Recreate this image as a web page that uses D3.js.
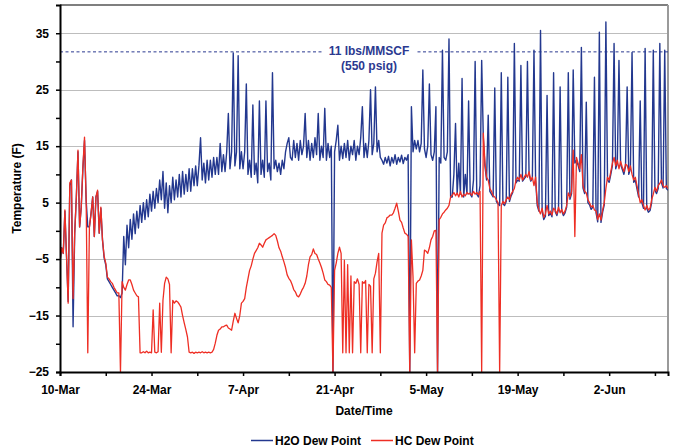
<!DOCTYPE html>
<html lang='en'>
<head>
<meta charset='UTF-8'>
<title>Dew Point</title>
<style>
  body { margin: 0; background: #fff; }
  svg text { font-family: Arial, 'Liberation Sans', sans-serif; font-weight: bold; fill: #000; }
</style>
</head>
<body>
<div id='chart'></div>
<script src='https://d3js.org/d3.v7.min.js'></script>
<script>
  // readings every 6 hours, starting 10-Mar
  var startDay = Date.UTC(2009, 2, 10)
  var stepDays = 0.25
  var lastDay = 93

  var seriesNames = ['H2O Dew Point', 'HC Dew Point']

  var h2oValues = [
    -5.5, -3, -4, 3.5, -4.6, -12.5, 8, 9,           // d0
    -17, -0.4, 6, 14, 0.7, 4.2, 11, 16,             // d2
    5.4, 0.7, 0.7, 3.1, 6, -1, 6, 7,                // d4
    -0.4, 4, -1.6, -4.8, -6, -8.5, -9, -9.5,        // d6
    -10, -10.5, -11, -11.5, -11.5, -11.8, -11, -1,  // d8
    -6, 1, -3, 2, -1.5, 3, -0.5, 3.5,               // d10
    0.5, 4.5, 1.5, 5, 2, 5.5, 2.5, 6.5,             // d12
    3.5, 7, 4, 7.5, 5, 9, 5.5, 10.5,                // d14
    4, 8.5, 3.2, 8, 5, 9.5, 5.5, 9,                 // d16
    6, 10, 6, 10.5, 6.5, 10, 7, 11,                 // d18
    7, 11, 8, 11.5, 8, 11.5, 16.5, 9,               // d20
    12, 8.5, 12.5, 9, 12.5, 9.5, 13, 10,            // d22
    13, 10, 15.5, 10.5, 13.5, 10.5, 14, 20.8,       // d24
    11, 14, 31.5, 11.5, 14, 31, 11, 14,             // d26
    11, 14, 26, 10, 12.5, 9.5, 22.3, 10,            // d28
    12, 8.5, 23, 10, 12.5, 9.5, 23, 10.5,           // d30
    12, 9, 28, 11, 12.5, 10.5, 12, 10,              // d32
    12.5, 11, 14, 15.5, 16.5, 13, 12.5, 16,         // d34
    13, 15.5, 12.5, 16, 13.5, 15, 20.8, 13,         // d36
    16, 12.5, 15.5, 13, 16.5, 13.5, 20.8, 12.5,     // d38
    15, 13, 21.7, 12.5, 15.5, 13, 15, -25,          // d40
    14, 16, 18.7, 12.5, 15, 12.8, 15.5, 13,         // d42
    16, 12.5, 15, 13.5, 16, 12.5, 15, 13.5,         // d44
    16.5, 22, 13, 15.5, 13, 16, 25, 13.5,           // d46
    15.5, 25.5, 14, 16, 13, 12.5, 11.8, 13,         // d48
    12, 13.2, 11.5, 13, 12, 13.5, 11.8, 13,         // d50
    12.2, 13.4, 11.9, 13, 12.5, 13.5, -25, 22,      // d52
    14, 16, 14.5, 16, 14, 15.5, 28.5, 14.5,         // d54
    13, 15, 26, 13.5, 12.5, 14, 22, -25,            // d56
    13, 12, 32, 13, 12.5, 14, 34, 6,                // d58
    6, 10, 19, 6.5, 12, 6.5, 27, 6,                 // d60
    10, 6.5, 23, 6.5, 6, 9, 30, 6.5,                // d62
    6, 8, 30.2, 16.5, 11.5, 9, 20.5, 7,             // d64
    6.5, 6, 25.3, 5.2, 4.8, 4.5, 28, 4.8,           // d66
    4.5, 5.2, 27.2, 5.2, 6.2, 6.8, 33.2, 8.5,       // d68
    9, 8.8, 29.3, 8.8, 9.2, 9.6, 30, 10,            // d70
    8.8, 9.2, 32, 9, 4.5, 3.5, 35.5, 3.5,           // d72
    2, 2.6, 24, 2.7, 3.2, 2.5, 28, 3.4,             // d74
    2.7, 3.8, 25.5, 3.5, 2.7, 3.2, 4.2, 28,         // d76
    5.6, 6.6, 28.5, 12, 12.5, 11.6, 10.5, 32.5,     // d78
    7.6, 6.6, 22.8, 5, 4.6, 3.8, 4.2, 27.2,         // d80
    3.2, 1.6, 35.2, 1.5, 3.3, 4.6, 37, 9,           // d82
    8.6, 10, 11.6, 33.2, 11, 12, 30.2, 11.8,        // d84
    10.9, 10, 11.4, 25.5, 10, 11, 31.6, 8.6,        // d86
    9, 7.5, 6, 23, 5, 4, 32.3, 4,                   // d88
    3.3, 3.6, 5, 32, 7.2, 6.6, 7.5, 33.2,           // d90
    8.5, 7.6, 32, 7.5, 7.2                          // d92
  ]

  var hcValues = [
    -5.5, -3, -4, 3.7, -4.6, -12.8, 8.5, 9,              // d0
    -12, -0.4, 6, 14.3, 0.7, 4.2, 11.3, 16.6,            // d2
    5.4, -21.6, 0.7, 3.1, 6, -1, 6, 7.2,                 // d4
    -0.4, 4.2, -1.6, -4.5, -5.7, -8.2, -8.5, -9,         // d6
    -9.3, -10, -10.5, -11, -11, -25, -9, -10,            // d8
    -10.5, -9.5, -8.7, -8.7, -9.5, -10.5, -11, -11.5,    // d10
    -11.7, -21.6, -21.6, -21.4, -21.6, -21.3, -21.6, -21.5, // d12
    -21.6, -14, -21.5, -21.6, -21.4, -12.8, -21.5, -12.3,   // d14
    -9.3, -8.2, -8.5, -9.5, -21.6, -12.3, -12.8, -12.4,  // d16
    -12.6, -13, -13.5, -15, -16.3, -17.5, -18.8, -21.5,  // d18
    -21.6, -21.5, -21.7, -21.5, -21.6, -21.5, -21.6, -21.4, // d20
    -21.6, -21.5, -21.6, -21.5, -21.6, -21.5, -21, -19.9,   // d22
    -18.5, -17.6, -17.4, -17, -17, -16.8, -16.7, -17.2,  // d24
    -17.4, -17.6, -16, -14.6, -15.5, -16.3, -15, -12.8,  // d26
    -12.5, -12, -10, -8.5, -7, -6.2, -5, -4,             // d28
    -3.5, -3, -2.2, -2.5, -2.9, -2.2, -1.6, -1.4,        // d30
    -1.2, -1, -0.8, -0.5, -0.8, -1.8, -3, -3.6,          // d32
    -4.6, -5.5, -6.5, -7.8, -8.4, -8.8, -9.5, -10.4,     // d34
    -10.8, -11.5, -11.7, -11.2, -10.5, -10, -9.3, -8,    // d36
    -6, -4.6, -4.2, -3.2, -4, -4.2, -5, -5.7,            // d38
    -6.5, -7.5, -8.7, -9, -9.5, -9.6, -10, -25,          // d40
    -7, -5.7, -4, -2.9, -4, -21.6, -5.2, -21.6,          // d42
    -6, -21.6, -8, -21.6, -9, -9.3, -8.5, -9.5,          // d44
    -21.6, -9, -9.3, -8.8, -21.6, -9.5, -9.8, -21.6,     // d46
    -8.5, -7.5, -5.5, -4, -21.6, -0.4, 1, 1.4,           // d48
    2.3, 2.5, 2.8, 2.8, 3.2, 4, 4.9, 3.5,                // d50
    1.9, 1.5, 0.5, -0.4, -0.6, -1, -25, -1.6,            // d52
    -8.2, -21.6, -9.3, -8.9, -8.7, -8, -7, -3.4,         // d54
    -3.6, -4, -3, -1.6, -1, 0, 0.1, -25,                 // d56
    2, 2.4, 3, 3.3, 3.7, 4, 4.5, 6,                      // d58
    6.3, 6.8, 6.2, 6.7, 6, 7, 6, 6.5,                    // d60
    6.2, 6.8, 6.5, 6.7, 6.3, 7, 6.5, 6.8,                // d62
    6.4, 7, -25, 17.3, 12, 9.5, 9, 7.5,                  // d64
    7, 6.2, 6, 5.5, 5, -25, 4.5, 5.2,                    // d66
    4.8, 5.5, 6, 5.5, 6.5, 7, 7.5, 9,                    // d68
    9.5, 9, 10, 9, 9.5, 10, 9.5, 10.5,                   // d70
    9, 9.5, 8, 9.5, 5, 3.7, 3, 4,                        // d72
    2.4, 3, 4.5, 3, 3.5, 2.8, 4, 3.7,                    // d74
    3, 4.2, 3.2, 3.8, 3, 3.5, 4.5, 6.7,                  // d76
    6, 7, 14.3, -1, 13, 12, 11, 13.5,                    // d78
    8, 7, 6.7, 5.5, 5, 4.2, 4.5, 3.7,                    // d80
    3.5, 2, 3, 1.9, 3.7, 5, 7.5, 9.5,                    // d82
    9, 10.5, 12, 13, 11.5, 12.5, 11, 12.3,               // d84
    11.3, 10.5, 11.8, 11.6, 10.5, 11.5, 10, 9,           // d86
    9.5, 8, 6.5, 5, 5.5, 4.5, 3.7, 4.5,                  // d88
    3.7, 4, 5.5, 6.5, 7.7, 7, 8, 8.4,                    // d90
    9, 8, 7.7, 8, 7.5                                    // d92
  ]

  var xMajorDays = [0, 14, 28, 42, 56, 70, 84]
  var xMinorDays = [7, 21, 35, 49, 63, 77, 91]
  var yLabelTicks = [-25, -15, -5, 5, 15, 25, 35]
  var yMinorTicks = [-20, -10, 0, 10, 20, 30]
  var limitValue = 31.7
  var limitLabel = ['11 lbs/MMSCF', '(550 psig)']

  var colors = ['#23388f', '#ee2e24']
  var widths = [1.4, 1.3]

  var W = 675, H = 448
  var pLeft = 60, pRight = 668, pTop = 5, pBottom = 372

  var dayDate = function (d) { return new Date(startDay + d * 864e5) }

  var x = d3.scaleUtc().domain([dayDate(0), dayDate(lastDay)]).range([pLeft, pRight])
  var y = d3.scaleLinear().domain([-25, 40]).range([pBottom, pTop])

  var svg = d3.select('#chart').append('svg')
    .attr('width', W).attr('height', H)

  // grid
  svg.append('g').selectAll('line')
    .data(yLabelTicks.filter(function (v) { return v > -25 }))
    .enter().append('line')
    .attr('x1', pLeft).attr('x2', pRight)
    .attr('y1', function (v) { return Math.round(y(v)) + 0.5 })
    .attr('y2', function (v) { return Math.round(y(v)) + 0.5 })
    .style('stroke', '#bdbdbd').style('stroke-width', 1)

  // frame top / right
  svg.append('line').attr('x1', pLeft).attr('x2', pRight).attr('y1', pTop).attr('y2', pTop)
    .style('stroke', '#000').style('stroke-width', 1.2)
  svg.append('line').attr('x1', pRight).attr('x2', pRight).attr('y1', pTop).attr('y2', pBottom)
    .style('stroke', '#9a9a9a').style('stroke-width', 2)

  // limit line + label
  svg.append('line')
    .attr('x1', pLeft).attr('x2', pRight)
    .attr('y1', y(limitValue)).attr('y2', y(limitValue))
    .style('stroke', '#2b3990').style('stroke-width', 1).style('stroke-dasharray', '3,2.5')
  var labelX = 369
  svg.append('rect').attr('x', labelX - 46).attr('y', y(limitValue) - 7)
    .attr('width', 92).attr('height', 14).style('fill', '#fff')
  svg.append('g').selectAll('text').data(limitLabel).enter().append('text')
    .attr('x', labelX).attr('y', function (d, i) { return 55 + i * 15 })
    .attr('text-anchor', 'middle').style('font-size', '12px').style('fill', '#2b3990')
    .text(function (d) { return d })

  // series
  var toPoints = function (vals) {
    return vals.map(function (v, i) { return { date: dayDate(i * stepDays), value: v } })
  }
  var line = d3.line().x(function (d) { return x(d.date) }).y(function (d) { return y(d.value) })

  svg.append('clipPath').attr('id', 'plotClip').append('rect')
    .attr('x', pLeft).attr('y', pTop).attr('width', pRight - pLeft).attr('height', pBottom - pTop)
  var plot = svg.append('g').attr('clip-path', 'url(#plotClip)')
  ;[h2oValues, hcValues].forEach(function (vals, i) {
    plot.append('path').datum(toPoints(vals))
      .attr('d', line)
      .style('fill', 'none').style('stroke', colors[i])
      .style('stroke-width', widths[i]).style('stroke-linejoin', 'round')
  })

  // axes
  var fmt = d3.utcFormat('%-d-%b')
  svg.append('g').attr('transform', 'translate(0,' + pBottom + ')')
    .call(d3.axisBottom(x).tickValues(xMajorDays.map(dayDate)).tickFormat(fmt).tickSize(4).tickPadding(9.5))
  svg.append('g').attr('transform', 'translate(0,' + pBottom + ')')
    .call(d3.axisBottom(x).tickValues(xMinorDays.map(dayDate)).tickFormat('').tickSize(4))
    .select('.domain').remove()
  svg.append('g').attr('transform', 'translate(' + pLeft + ',0)')
    .call(d3.axisLeft(y).tickValues(yLabelTicks).tickSize(4).tickPadding(7))
  svg.append('g').attr('transform', 'translate(' + pLeft + ',0)')
    .call(d3.axisLeft(y).tickValues(yMinorTicks).tickFormat('').tickSize(4))
    .select('.domain').remove()

  svg.selectAll('.domain').style('stroke', '#000').style('stroke-width', 2)
  svg.selectAll('.tick line').style('stroke', '#000').style('stroke-width', 1.5)
  svg.selectAll('.tick text').style('font-size', '12px').style('font-family', 'Arial, Liberation Sans, sans-serif')
    .style('font-weight', 'bold').style('fill', '#000')

  // axis titles
  svg.append('text').attr('x', (pLeft + pRight) / 2).attr('y', 415)
    .attr('text-anchor', 'middle').style('font-size', '12px').text('Date/Time')
  svg.append('text')
    .attr('transform', 'translate(21,' + (pTop + pBottom) / 2 + ') rotate(-90)')
    .attr('text-anchor', 'middle').style('font-size', '12px').text('Temperature (F)')

  // legend
  var legendX = [251, 371]
  var legend = svg.append('g').selectAll('g').data(seriesNames).enter().append('g')
    .attr('transform', function (d, i) { return 'translate(' + legendX[i] + ',440.5)' })
  legend.append('line').attr('x1', 0).attr('x2', 22)
    .style('stroke', function (d, i) { return colors[i] }).style('stroke-width', 1.5)
  legend.append('text').attr('x', 24).attr('y', 4).style('font-size', '12px')
    .text(function (d) { return d })
</script>
</body>
</html>
